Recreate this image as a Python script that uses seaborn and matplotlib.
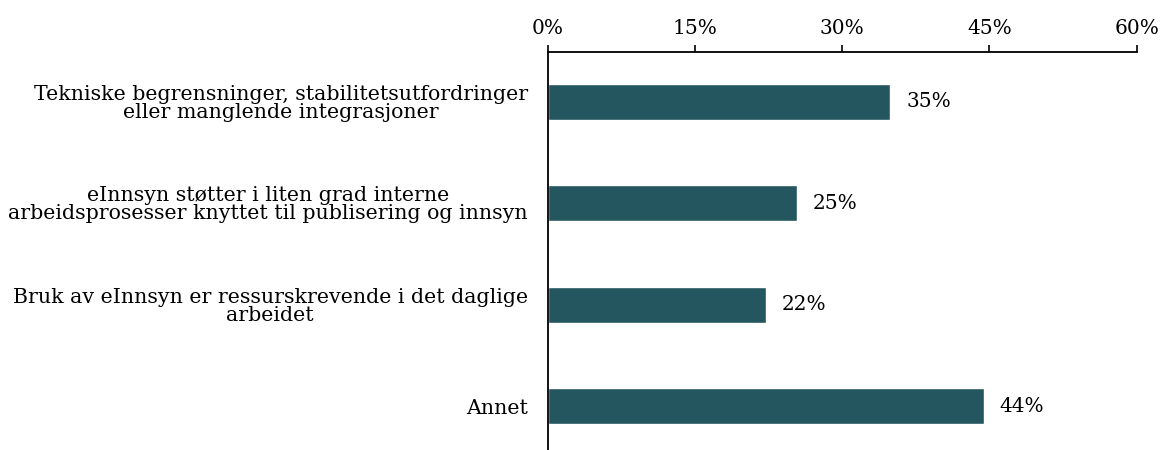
import pandas as pd
import matplotlib
matplotlib.use("Agg")
import matplotlib.pyplot as plt
import seaborn as sns
from matplotlib.ticker import PercentFormatter

categories = [
    "Tekniske begrensninger, stabilitetsutfordringer\neller manglende integrasjoner",
    "eInnsyn støtter i liten grad interne\narbeidsprosesser knyttet til publisering og innsyn",
    "Bruk av eInnsyn er ressurskrevende i det daglige\narbeidet",
    "Annet",
]
shares = [34.9, 25.4, 22.2, 44.4]
x_ticks = [0, 15, 30, 45, 60]

df = pd.DataFrame({"Kategori": categories, "Andel": shares})

sns.set_style("white")
plt.rcParams["font.family"] = ["DejaVu Serif"]
plt.rcParams["text.color"] = "black"
plt.rcParams["xtick.color"] = "black"
plt.rcParams["ytick.color"] = "black"

fig = plt.figure(figsize=(11.61, 4.5), dpi=100)
ax = fig.add_axes([0.472, 0.0, 0.507, 0.884])

sns.barplot(data=df, x="Andel", y="Kategori", color="#24565F", width=0.355,
            saturation=1, ax=ax)

ax.set_xlim(0, 60)
ax.set_ylim(3.43, -0.49)
ax.set_xticks(x_ticks)
ax.xaxis.set_major_formatter(PercentFormatter(decimals=0))
ax.xaxis.tick_top()
ax.tick_params(axis="x", top=True, bottom=False, direction="out", length=5,
               width=1.2, color="black", labelsize=14.5, pad=5)
ax.tick_params(axis="y", left=False, labelsize=14.8, pad=11)
for lbl in ax.get_yticklabels():
    lbl.set_multialignment("center")
    lbl.set_linespacing(0.92)
ax.set_xlabel("")
ax.set_ylabel("")

for s in ["right", "bottom"]:
    ax.spines[s].set_visible(False)
for s in ["top", "left"]:
    ax.spines[s].set_color("black")
    ax.spines[s].set_linewidth(1.3)

for i, v in enumerate(shares):
    ax.text(v + 1.6, i, f"{round(v):.0f}%", va="center", ha="left", fontsize=14.5)

fig.savefig("out.png", dpi=100)
